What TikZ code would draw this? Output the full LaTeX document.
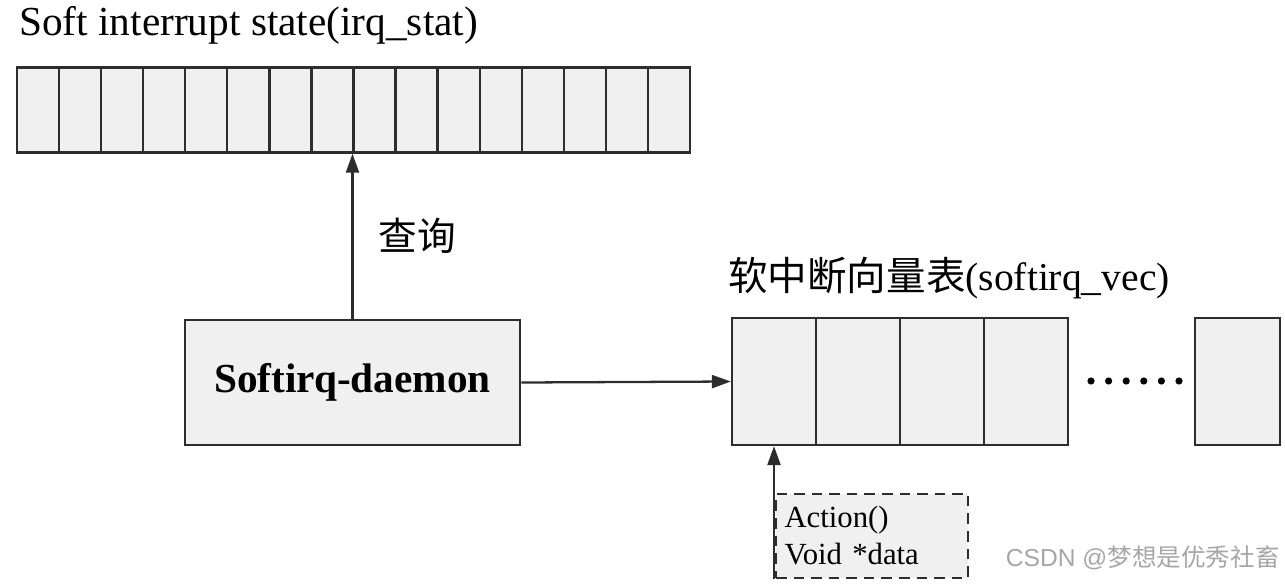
\documentclass[tikz,border=0pt]{standalone}
\usepackage{fontspec}
\setmainfont{Liberation Serif}
\newfontfamily\cjk{Noto Sans CJK SC}
\newfontfamily\wmfont{Liberation Sans}
\usepackage{xcolor}
\usetikzlibrary{arrows.meta,positioning,calc}
\definecolor{cell-gray}{RGB}{240,240,240}
\definecolor{line-gray}{RGB}{45,45,45}

\begin{document}
\begin{tikzpicture}[
    x=0.02cm, y=-0.02cm,
    statcell/.style={rectangle, draw=line-gray, line width=1.3pt, fill=cell-gray, minimum width=0.841cm, minimum height=1.7cm, inner sep=0pt},
    veccell/.style={rectangle, draw=line-gray, line width=1.3pt, fill=cell-gray, minimum width=1.68cm, minimum height=2.54cm, inner sep=0pt},
    daemonbox/.style={rectangle, draw=line-gray, line width=1.5pt, fill=cell-gray, minimum width=6.7cm, minimum height=2.5cm, align=center, font=\fontsize{23.5}{28}\selectfont\bfseries},
    databox/.style={rectangle, draw=line-gray, line width=1.5pt, dash pattern=on 6pt off 4pt, fill=cell-gray, minimum width=3.84cm, minimum height=1.68cm, align=left, font=\fontsize{17.5}{21}\selectfont, inner sep=3pt},
    label/.style={font=\fontsize{23.5}{28}\selectfont, inner sep=0pt},
    arrow/.style={-{Triangle[length=0.38cm,width=0.26cm]}, line width=1.3pt, draw=line-gray}
]
\useasboundingbox (0,0) rectangle (1285,585);

% Soft interrupt state
\node[label, anchor=west] (statlabel) at (19,25) {Soft interrupt state(irq\_stat)};
\foreach \i in {1,...,16}
    \node[statcell] (stat\i) at ({17+42.06*(\i-0.5)},110) {};

% Daemon
\node[daemonbox] (daemon) at (352.5,382.5) {Softirq-daemon};

% Vector table
\node[label, anchor=west, font=\fontsize{22.5}{28}\selectfont] (veclabel) at (728,278) {{\cjk 软中断向量表}(softirq\_vec)};
\foreach \i in {1,...,4}
    \node[veccell] (vec\i) at ({732+84*(\i-0.5)},381.5) {};
\node[veccell, minimum width=1.7cm] (veclast) at (1237.5,381.5) {};
\foreach \j in {0,...,5}
    \fill[black] ({1091+17.6*\j},381) circle (3.6);

% Action data
\node[databox, text width=3.5cm] (action) at (872,536) {Action()\\Void *data};

% Arrows
\draw[arrow] (daemon.north) -- node[right=0.5cm, label, font=\cjk\fontsize{22}{26}\selectfont] {查询} (daemon.north |- stat8.south);
\draw[arrow] (daemon.east) -- (vec1.west);
\draw[arrow] (vec1.south |- action.south) -- (vec1.south);

% Watermark
\node[font=\wmfont\fontsize{14}{16}\selectfont, text=black!35, anchor=east, inner sep=0pt] (mark) at (1280,558) {CSDN @{\cjk 梦想是优秀社畜}};

\end{tikzpicture}
\end{document}
